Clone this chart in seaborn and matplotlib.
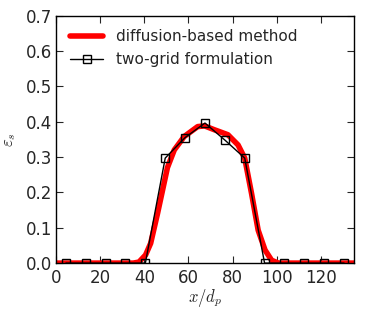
import numpy as np
import pandas as pd
import matplotlib
matplotlib.use('Agg')
import matplotlib.pyplot as plt
import seaborn as sns

# ─────────────────────────────────────────────
# Data
# ─────────────────────────────────────────────
diff_x = [0, 20, 30, 35, 37.6, 40.6, 42.9, 46, 50.5, 53.6, 58.1, 64.2, 67.3,
          71.8, 77.9, 82.5, 85.5, 88.6, 91.6, 94.7, 97.7, 100.8, 110, 135]
diff_y = [0, 0, 0, 0.0, 0.003, 0.023, 0.056, 0.14, 0.27, 0.32, 0.358, 0.386,
          0.388, 0.377, 0.363, 0.334, 0.297, 0.197, 0.093, 0.037, 0.008, 0.0, 0, 0]

grid_x = [4.5, 13.5, 22.5, 31.5, 40.5, 49.5, 58.5, 67.5, 76.5, 85.5,
          94.5, 103.5, 112.5, 121.5, 130.5]
grid_y = [0, 0, 0, 0, 0, 0.297, 0.355, 0.396, 0.348, 0.297,
          0, 0, 0, 0, 0]

x_ticks = [0, 20, 40, 60, 80, 100, 120]
y_ticks = [0.0, 0.1, 0.2, 0.3, 0.4, 0.5, 0.6, 0.7]

sns.set_style('ticks')
plt.rcParams['font.family'] = ['DejaVu Sans']
plt.rcParams['mathtext.fontset'] = 'cm'

fig = plt.figure(figsize=(3.73, 3.11), dpi=100)
ax = fig.add_axes([0.150, 0.154, 0.799, 0.796])

sns.lineplot(x=diff_x, y=diff_y, ax=ax, color='red', linewidth=4,
             label='diffusion-based method')
sns.lineplot(x=grid_x, y=grid_y, ax=ax, color='black', linewidth=1,
             marker='s', markersize=6, markerfacecolor='none',
             markeredgecolor='black', markeredgewidth=1,
             label='two-grid formulation')

ax.set_xlim(0, 135)
ax.set_ylim(0, 0.7)
ax.set_xticks(x_ticks)
ax.set_yticks(y_ticks)
ax.set_yticklabels([f'{v:.1f}' for v in y_ticks])
ax.tick_params(direction='in', top=True, right=True, labelsize=12,
               length=5, width=0.8)
ax.tick_params(axis='x', pad=4)
ax.tick_params(axis='y', pad=2.5)
for s in ax.spines.values():
    s.set_visible(True)
    s.set_linewidth(1)
    s.set_color('black')

ax.set_xlabel('$x/d_p$', fontsize=12, labelpad=0)
ax.set_ylabel(r'$\varepsilon_s$', fontsize=12, labelpad=6)

ax.legend(loc='upper left', frameon=False, fontsize=11, handlelength=2.2)

fig.savefig('out.png', dpi=100)
